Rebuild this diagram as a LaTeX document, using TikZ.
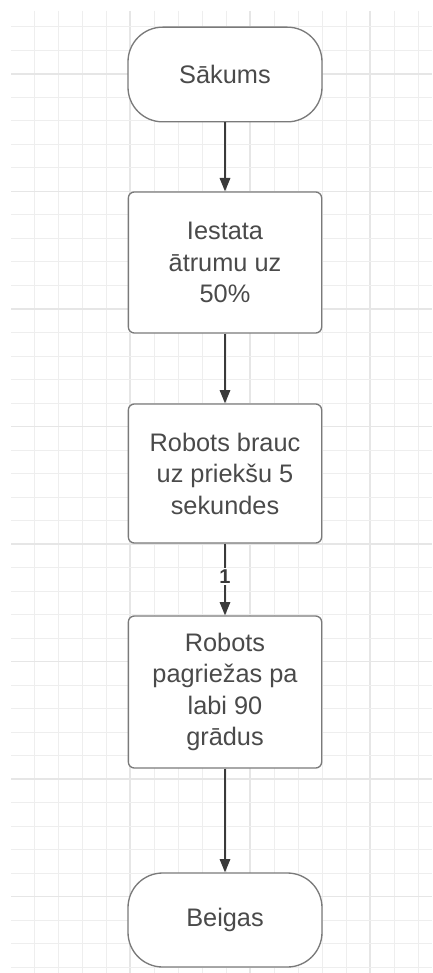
\documentclass[tikz,border=0pt]{standalone}
\usepackage{fontspec}
\setmainfont{Liberation Sans}
\usetikzlibrary{arrows.meta}
\definecolor{gridminor}{HTML}{EEEEEE}
\definecolor{gridmajor}{HTML}{E6E6E6}
\definecolor{shapeline}{HTML}{7A7A7A}
\definecolor{textgray}{HTML}{4A4A4A}
\definecolor{arrowgray}{HTML}{3A3A3A}
\tikzset{
  boxtext/.style={font=\fontsize{19}{23.6}\selectfont, text=textgray, align=center},
  terminal/.style={boxtext, draw=shapeline, line width=1pt, fill=white,
    rounded corners=26pt, minimum width=145.5pt, minimum height=71pt, inner sep=0pt},
  stepbox/.style={boxtext, draw=shapeline, line width=1pt, fill=white,
    rounded corners=4.5pt, minimum width=145pt, inner sep=0pt},
  flow/.style={draw=arrowgray, line width=0.8pt,
    -{Triangle[length=10pt, width=8pt, fill=arrowgray]}},
  edgelabel/.style={font=\fontsize{15}{16}\selectfont\bfseries, text=arrowgray,
    fill=white, inner sep=1pt}
}
\begin{document}
\begin{tikzpicture}[x=0.75pt, y=-0.75pt]
  % page and background
  \useasboundingbox (0,0) rectangle (432,973);
  \fill[white] (0,0) rectangle (432,973);

  % grid paper
  \foreach \k in {1,...,17} {
    \pgfmathsetmacro{\gx}{10+24*\k}
    \pgfmathtruncatemacro{\ismajor}{mod(\k,5)==0}
    \ifnum\ismajor=1
      \draw[gridmajor, line width=0.9pt] (\gx,11) -- (\gx,973);
    \else
      \draw[gridminor, line width=0.75pt] (\gx,11) -- (\gx,973);
    \fi
  }
  \foreach \k in {-2,...,38} {
    \pgfmathsetmacro{\gy}{74+23.5*\k}
    \pgfmathtruncatemacro{\ismajor}{mod(\k+10,5)==0}
    \ifnum\ismajor=1
      \draw[gridmajor, line width=0.9pt] (11,\gy) -- (432,\gy);
    \else
      \draw[gridminor, line width=0.75pt] (11,\gy) -- (432,\gy);
    \fi
  }

  % flowchart nodes
  \node[terminal] (start) at (225,74.5) {Sākums};
  \node[stepbox, minimum height=105.75pt] (speed) at (225,262.5)
    {Iestata\\ātrumu uz\\50\%};
  \node[stepbox, minimum height=104.25pt] (drive) at (225,473.5)
    {Robots brauc\\uz priekšu 5\\sekundes};
  \node[stepbox, minimum height=114pt] (turn) at (225,692)
    {Robots\\pagriežas pa\\labi 90\\grādus};
  \node[terminal, minimum height=70.5pt] (stop) at (225,920) {Beigas};

  % connectors
  \draw[flow] (start) -- (speed);
  \draw[flow] (speed) -- (drive);
  \draw[flow] (drive) -- node[edgelabel, pos=0.46] {1} (turn);
  \draw[flow] (turn) -- (stop);
\end{tikzpicture}
\end{document}
